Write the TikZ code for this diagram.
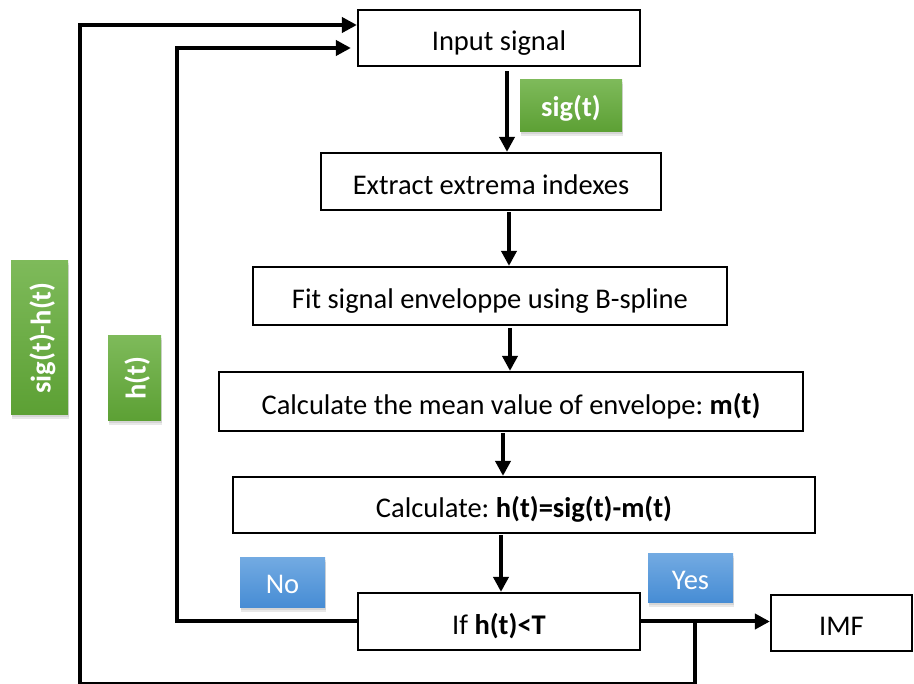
\documentclass[tikz,border=0pt]{standalone}
\usepackage{fontspec}
\setmainfont{Carlito}
\usetikzlibrary{arrows.meta,shadows,calc}
\definecolor{gTop}{RGB}{126,186,90}
\definecolor{gBot}{RGB}{92,160,52}
\definecolor{bTop}{RGB}{114,170,226}
\definecolor{bBot}{RGB}{70,140,212}
\frenchspacing
\tikzset{
  box/.style={draw=black, line width=2.2pt, fill=white, inner sep=0pt, text=black,
    text height=28pt, text depth=2pt, font=\fontsize{28.5}{32}\selectfont},
  lab/.style={inner sep=0pt, text=white, text height=24pt, text depth=2pt,
    font=\fontsize{28.5}{32}\selectfont,
    drop shadow={opacity=0.18, shadow xshift=1pt, shadow yshift=-4pt},
    drop shadow={opacity=0.18, shadow xshift=1pt, shadow yshift=-2pt}},
  greenlab/.style={lab, top color=gTop, bottom color=gBot, font=\fontsize{28.5}{32}\selectfont\bfseries},
  bluelab/.style={lab, top color=bTop, bottom color=bBot},
  conn/.style={line width=4pt, draw=black},
  arr/.style={conn, -{Triangle[length=15pt,width=15pt]}},
}
\begin{document}
\begin{tikzpicture}[x=1pt,y=-1pt]
\useasboundingbox (0,0) rectangle (914,684);
% boxes
\node[box, minimum width=282pt, minimum height=56pt] (in)   at (499,38)    {Input signal};
\node[box, minimum width=340pt, minimum height=57pt] (ext)  at (491,181.5) {Extract extrema indexes};
\node[box, minimum width=474pt, minimum height=58pt] (fit)  at (490,296)   {Fit signal enveloppe using B-spline};
\node[box, minimum width=584pt, minimum height=59pt] (mean) at (511,401.5) {Calculate the mean value of envelope: \textbf{m(t)}};
\node[box, minimum width=582pt, minimum height=56pt] (calc) at (524,505)   {Calculate: \textbf{h(t)=sig(t)-m(t)}};
\node[box, minimum width=282pt, minimum height=57pt] (if)   at (499,621.5) {If \textbf{h(t)<T}};
\node[box, minimum width=141pt, minimum height=56pt] (imf)  at (841.5,623) {IMF};
% labels
\node[greenlab, minimum width=102pt, minimum height=52pt] (lsig) at (571,106) {sig(t)};
\node[greenlab, rotate=90, minimum width=154pt, minimum height=57pt] (lsh) at (39.5,338) {sig(t)-h(t)};
\node[greenlab, rotate=90, minimum width=85pt, minimum height=53pt] (lh) at (134.5,378.5) {h(t)};
\node[bluelab, minimum width=85pt, minimum height=50pt] (lno) at (282.5,583) {No};
\node[bluelab, minimum width=85pt, minimum height=49pt] (lyes) at (690.5,578.5) {Yes};
% vertical arrows
\draw[arr] ([xshift=8pt,yshift=-4pt]in.south) -- ([xshift=16pt]ext.north);
\draw[arr] ([xshift=18pt,yshift=-1pt]ext.south) -- ([xshift=19pt]fit.north);
\draw[arr] ([xshift=20pt,yshift=-2pt]fit.south) -- ([xshift=-1pt]mean.north);
\draw[arr] ([xshift=-8pt,yshift=-1pt]mean.south) -- ([xshift=-21pt]calc.north);
\draw[arr] ([xshift=-23pt,yshift=-1pt]calc.south) -- ([xshift=2pt]if.north);
% yes branch
\draw[arr] (if.east) -- (if.east -| imf.west);
% loops
\coordinate (ob) at (695,684);
\coordinate (ol) at (80,684);
\coordinate (ot) at (80,25);
\draw[arr] (if.east -| ob) -- (ob) -- (ol) -- (ot) -- (ot -| in.west);
\coordinate (il) at (177,48);
\coordinate (inW) at ([xshift=-6pt]in.west);
\draw[arr] (if.west) -| (il) -- (il -| inW);
\end{tikzpicture}
\end{document}
